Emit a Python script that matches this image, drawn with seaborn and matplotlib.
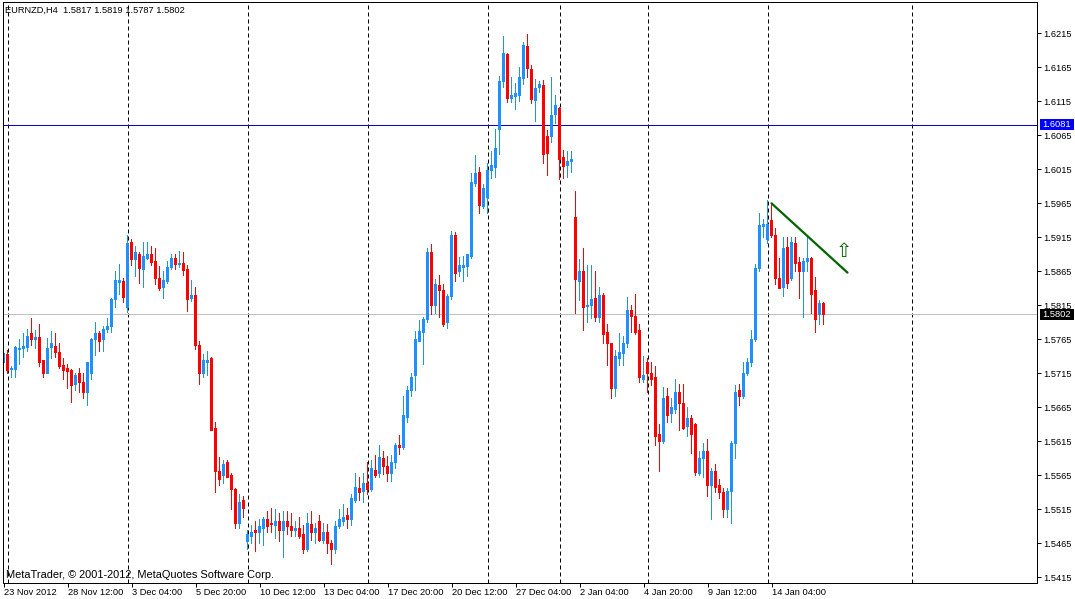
import numpy as np
import pandas as pd
import matplotlib
matplotlib.use("Agg")
import matplotlib.pyplot as plt
import matplotlib.transforms as mtransforms
from matplotlib.patches import Rectangle
import seaborn as sns

# ---------------- data (EURNZD H4) ----------------
opens = [
    1.5730, 1.5743, 1.5720, 1.5721, 1.5750, 1.5752, 1.5753, 1.5774, 1.5765, 1.5768,
    1.5733, 1.5715, 1.5753, 1.5755, 1.5746, 1.5727, 1.5722, 1.5719, 1.5699, 1.5715,
    1.5702, 1.5686, 1.5715, 1.5764, 1.5774, 1.5764, 1.5780, 1.5784, 1.5824, 1.5849,
    1.5850, 1.5811, 1.5908, 1.5883, 1.5890, 1.5868, 1.5884, 1.5890, 1.5880, 1.5855,
    1.5841, 1.5850, 1.5871, 1.5884, 1.5875, 1.5877, 1.5868, 1.5825, 1.5830, 1.5756,
    1.5715, 1.5731, 1.5736, 1.5633, 1.5571, 1.5564, 1.5583, 1.5565, 1.5544, 1.5494,
    1.5527, 1.5467, 1.5475, 1.5483, 1.5481, 1.5486, 1.5499, 1.5494, 1.5491, 1.5496,
    1.5483, 1.5496, 1.5490, 1.5483, 1.5487, 1.5477, 1.5456, 1.5493, 1.5480, 1.5497,
    1.5469, 1.5480, 1.5465, 1.5456, 1.5489, 1.5497, 1.5505, 1.5499, 1.5528, 1.5546,
    1.5541, 1.5552, 1.5544, 1.5572, 1.5568, 1.5590, 1.5577, 1.5568, 1.5584, 1.5608,
    1.5605, 1.5650, 1.5689, 1.5711, 1.5762, 1.5775, 1.5794, 1.5893, 1.5814, 1.5844,
    1.5837, 1.5789, 1.5828, 1.5918, 1.5864, 1.5871, 1.5872, 1.5886, 1.5994, 1.6011,
    1.5961, 1.5974, 1.6014, 1.6018, 1.6074, 1.6144, 1.6184, 1.6119, 1.6122, 1.6124,
    1.6149, 1.6196, 1.6162, 1.6116, 1.6136, 1.6139, 1.6064, 1.6064, 1.6095, 1.6105,
    1.6033, 1.6021, 1.6027, 1.5944, 1.5850, 1.5865, 1.5813, 1.5814, 1.5825, 1.5797,
    1.5830, 1.5775, 1.5758, 1.5693, 1.5737, 1.5744, 1.5758, 1.5808, 1.5799, 1.5778,
    1.5706, 1.5730, 1.5715, 1.5708, 1.5625, 1.5614, 1.5680, 1.5656, 1.5661, 1.5687,
    1.5671, 1.5636, 1.5649, 1.5640, 1.5568, 1.5589, 1.5599, 1.5549, 1.5571, 1.5549,
    1.5540, 1.5515, 1.5541, 1.5611, 1.5689, 1.5681, 1.5715, 1.5730, 1.5764, 1.5869,
    1.5931, 1.5912, 1.5940, 1.5917, 1.5855, 1.5841, 1.5900, 1.5855, 1.5906, 1.5878,
    1.5864, 1.5880, 1.5884, 1.5836, 1.5802, 1.5817,
]
closes = [
    1.5744, 1.5719, 1.5722, 1.5753, 1.5752, 1.5755, 1.5769, 1.5764, 1.5767, 1.5731,
    1.5714, 1.5752, 1.5758, 1.5746, 1.5725, 1.5719, 1.5718, 1.5697, 1.5712, 1.5702,
    1.5686, 1.5730, 1.5764, 1.5774, 1.5762, 1.5780, 1.5784, 1.5824, 1.5852, 1.5852,
    1.5827, 1.5906, 1.5883, 1.5892, 1.5869, 1.5887, 1.5889, 1.5878, 1.5855, 1.5840,
    1.5852, 1.5871, 1.5884, 1.5875, 1.5877, 1.5866, 1.5824, 1.5830, 1.5756, 1.5714,
    1.5733, 1.5734, 1.5631, 1.5571, 1.5559, 1.5581, 1.5562, 1.5544, 1.5494, 1.5525,
    1.5516, 1.5477, 1.5481, 1.5480, 1.5489, 1.5500, 1.5489, 1.5492, 1.5497, 1.5484,
    1.5496, 1.5489, 1.5484, 1.5487, 1.5474, 1.5456, 1.5494, 1.5481, 1.5487, 1.5469,
    1.5481, 1.5464, 1.5455, 1.5490, 1.5499, 1.5503, 1.5499, 1.5530, 1.5547, 1.5540,
    1.5553, 1.5544, 1.5574, 1.5565, 1.5591, 1.5577, 1.5568, 1.5584, 1.5608, 1.5605,
    1.5652, 1.5690, 1.5709, 1.5765, 1.5777, 1.5794, 1.5892, 1.5814, 1.5846, 1.5836,
    1.5787, 1.5828, 1.5917, 1.5862, 1.5874, 1.5874, 1.5889, 1.5996, 1.6009, 1.5962,
    1.5987, 1.6014, 1.6021, 1.6046, 1.6144, 1.6186, 1.6119, 1.6124, 1.6127, 1.6150,
    1.6197, 1.6164, 1.6118, 1.6134, 1.6140, 1.6037, 1.6039, 1.6095, 1.6109, 1.6030,
    1.6019, 1.6027, 1.6030, 1.5853, 1.5865, 1.5812, 1.5815, 1.5824, 1.5797, 1.5830,
    1.5772, 1.5758, 1.5692, 1.5740, 1.5746, 1.5759, 1.5808, 1.5799, 1.5775, 1.5708,
    1.5712, 1.5714, 1.5706, 1.5622, 1.5614, 1.5678, 1.5653, 1.5664, 1.5687, 1.5671,
    1.5634, 1.5649, 1.5625, 1.5569, 1.5589, 1.5600, 1.5550, 1.5571, 1.5547, 1.5539,
    1.5514, 1.5541, 1.5611, 1.5687, 1.5681, 1.5715, 1.5730, 1.5765, 1.5869, 1.5933,
    1.5934, 1.5934, 1.5917, 1.5855, 1.5840, 1.5899, 1.5847, 1.5908, 1.5877, 1.5865,
    1.5880, 1.5884, 1.5831, 1.5794, 1.5818, 1.5802,
]
highs = [
    1.5746, 1.5749, 1.5725, 1.5755, 1.5765, 1.5774, 1.5780, 1.5796, 1.5778, 1.5786,
    1.5734, 1.5766, 1.5777, 1.5774, 1.5759, 1.5737, 1.5728, 1.5721, 1.5715, 1.5722,
    1.5715, 1.5731, 1.5766, 1.5789, 1.5777, 1.5784, 1.5796, 1.5825, 1.5864, 1.5875,
    1.5855, 1.5918, 1.5912, 1.5902, 1.5893, 1.5908, 1.5908, 1.5902, 1.5899, 1.5872,
    1.5864, 1.5880, 1.5890, 1.5890, 1.5894, 1.5893, 1.5874, 1.5852, 1.5841, 1.5762,
    1.5743, 1.5747, 1.5738, 1.5642, 1.5591, 1.5587, 1.5586, 1.5568, 1.5546, 1.5536,
    1.5533, 1.5484, 1.5491, 1.5496, 1.5499, 1.5502, 1.5512, 1.5516, 1.5514, 1.5509,
    1.5512, 1.5512, 1.5509, 1.5496, 1.5502, 1.5491, 1.5509, 1.5512, 1.5494, 1.5506,
    1.5494, 1.5493, 1.5469, 1.5496, 1.5514, 1.5522, 1.5516, 1.5536, 1.5568, 1.5562,
    1.5568, 1.5583, 1.5587, 1.5594, 1.5608, 1.5599, 1.5593, 1.5594, 1.5611, 1.5624,
    1.5681, 1.5696, 1.5714, 1.5777, 1.5793, 1.5797, 1.5899, 1.5905, 1.5853, 1.5859,
    1.5846, 1.5831, 1.5924, 1.5922, 1.5886, 1.5887, 1.5890, 1.6009, 1.6036, 1.6018,
    1.5993, 1.6024, 1.6041, 1.6074, 1.6152, 1.6211, 1.6186, 1.6150, 1.6141, 1.6165,
    1.6202, 1.6213, 1.6168, 1.6147, 1.6144, 1.6146, 1.6072, 1.6150, 1.6124, 1.6106,
    1.6043, 1.6041, 1.6041, 1.5983, 1.5883, 1.5899, 1.5874, 1.5874, 1.5864, 1.5841,
    1.5833, 1.5786, 1.5759, 1.5749, 1.5774, 1.5769, 1.5827, 1.5815, 1.5831, 1.5787,
    1.5740, 1.5737, 1.5730, 1.5725, 1.5640, 1.5694, 1.5692, 1.5677, 1.5705, 1.5699,
    1.5699, 1.5665, 1.5652, 1.5641, 1.5599, 1.5612, 1.5618, 1.5574, 1.5581, 1.5558,
    1.5546, 1.5546, 1.5615, 1.5697, 1.5699, 1.5731, 1.5737, 1.5778, 1.5875, 1.5950,
    1.5941, 1.5969, 1.5965, 1.5928, 1.5884, 1.5914, 1.5914, 1.5914, 1.5914, 1.5886,
    1.5884, 1.5918, 1.5886, 1.5856, 1.5822, 1.5819,
]
lows = [
    1.5715, 1.5714, 1.5709, 1.5708, 1.5728, 1.5738, 1.5747, 1.5756, 1.5752, 1.5725,
    1.5709, 1.5714, 1.5736, 1.5738, 1.5722, 1.5705, 1.5692, 1.5672, 1.5689, 1.5687,
    1.5678, 1.5667, 1.5705, 1.5741, 1.5747, 1.5747, 1.5775, 1.5775, 1.5812, 1.5831,
    1.5819, 1.5805, 1.5874, 1.5858, 1.5847, 1.5841, 1.5883, 1.5874, 1.5846, 1.5836,
    1.5825, 1.5847, 1.5868, 1.5868, 1.5871, 1.5859, 1.5806, 1.5821, 1.5750, 1.5699,
    1.5709, 1.5711, 1.5630, 1.5540, 1.5550, 1.5553, 1.5561, 1.5515, 1.5486, 1.5487,
    1.5502, 1.5456, 1.5464, 1.5453, 1.5464, 1.5462, 1.5481, 1.5480, 1.5471, 1.5467,
    1.5444, 1.5477, 1.5474, 1.5474, 1.5472, 1.5450, 1.5453, 1.5469, 1.5465, 1.5467,
    1.5465, 1.5450, 1.5434, 1.5450, 1.5486, 1.5491, 1.5486, 1.5491, 1.5524, 1.5528,
    1.5524, 1.5537, 1.5541, 1.5562, 1.5561, 1.5566, 1.5556, 1.5555, 1.5575, 1.5596,
    1.5602, 1.5642, 1.5681, 1.5689, 1.5761, 1.5728, 1.5790, 1.5802, 1.5803, 1.5797,
    1.5783, 1.5781, 1.5824, 1.5850, 1.5858, 1.5850, 1.5858, 1.5884, 1.5990, 1.5950,
    1.5958, 1.5950, 1.6002, 1.6003, 1.6037, 1.6136, 1.6114, 1.6114, 1.6103, 1.6115,
    1.6140, 1.6150, 1.6112, 1.6086, 1.6128, 1.6024, 1.6006, 1.6055, 1.6083, 1.6000,
    1.6002, 1.6003, 1.6011, 1.5803, 1.5822, 1.5778, 1.5789, 1.5796, 1.5791, 1.5789,
    1.5758, 1.5727, 1.5678, 1.5680, 1.5727, 1.5727, 1.5753, 1.5775, 1.5772, 1.5702,
    1.5702, 1.5687, 1.5697, 1.5608, 1.5571, 1.5611, 1.5642, 1.5642, 1.5656, 1.5630,
    1.5632, 1.5622, 1.5597, 1.5565, 1.5565, 1.5562, 1.5534, 1.5500, 1.5540, 1.5530,
    1.5503, 1.5503, 1.5494, 1.5590, 1.5668, 1.5678, 1.5712, 1.5725, 1.5761, 1.5864,
    1.5914, 1.5906, 1.5914, 1.5846, 1.5839, 1.5828, 1.5839, 1.5852, 1.5865, 1.5825,
    1.5797, 1.5864, 1.5803, 1.5775, 1.5786, 1.5787,
]

time_tick_bars = [0, 16, 32, 48, 64, 80, 96, 112, 128, 144, 160, 176, 192]
time_tick_labels = ["23 Nov 2012", "28 Nov 12:00", "3 Dec 04:00", "5 Dec 20:00",
                    "10 Dec 12:00", "13 Dec 04:00", "17 Dec 20:00", "20 Dec 12:00",
                    "27 Dec 04:00", "2 Jan 04:00", "4 Jan 20:00", "9 Jan 12:00",
                    "14 Jan 04:00"]
week_separator_bars = [1, 31, 61, 91, 121, 139, 161, 191, 227]
price_ticks = [1.5415, 1.5465, 1.5515, 1.5565, 1.5615, 1.5665, 1.5715, 1.5765,
               1.5815, 1.5865, 1.5915, 1.5965, 1.6015, 1.6065, 1.6115, 1.6165, 1.6215]
level_price = 1.6081
bid_price = 1.5802
trend_bars = [192, 211]
trend_prices = [1.5965, 1.5863]
arrow_bar = 210
arrow_price = 1.5894
header_text = "EURNZD,H4  1.5817 1.5819 1.5787 1.5802"
copyright_text = "MetaTrader, \u00a9 2001-2012, MetaQuotes Software Corp."

# ---------------- style ----------------
BULL = "#1E90FF"
BEAR = "#FF0000"
GREEN = "#006400"
LEVEL = "#0000CC"
SILVER = "#C0C0C0"
PX = 0.72          # one pixel in points at dpi 100
FS = 6.7

sns.set_theme(style="white")
plt.rcParams["font.family"] = ["Liberation Sans", "DejaVu Sans"]

W, H = 1075, 599
fig = plt.figure(figsize=(W / 100, H / 100), dpi=100)
fig.patch.set_facecolor("white")
ax = fig.add_axes([2.5 / W, 16.5 / H, 1034 / W, 581 / H])
ax.set_facecolor("white")

df = pd.DataFrame({"open": opens, "high": highs, "low": lows, "close": closes})
df["bar"] = np.arange(len(df))
up = df["close"] >= df["open"]
colors = np.where(up, BULL, BEAR)

px_price = 1 / 6800.0  # price per screen pixel
ax.set_xlim(-0.25, 258.25)
ax.set_ylim(1.5415 - 5.5 * px_price, 1.6215 + 32 * px_price)

# weekly separators
for b in week_separator_bars:
    ax.axvline(b, color="black", lw=PX, linestyle=(0, (4, 3)), zorder=1)

# level lines
ax.axhline(level_price, color=LEVEL, lw=PX, zorder=1.5)
ax.axhline(bid_price, color=SILVER, lw=PX, zorder=1.5)

# candles
ax.vlines(df["bar"], df["low"], df["high"], colors=colors, lw=PX,
          antialiased=False, snap=False, zorder=2)
body_low = np.minimum(df["open"], df["close"])
body_h = np.maximum((df["close"] - df["open"]).abs(), px_price)
bars = ax.bar(df["bar"], body_h, bottom=body_low, width=0.74, color=colors,
              linewidth=0, antialiased=False, zorder=2.1)
for r in bars.patches:
    r.set_snap(False)

# trend line
sns.lineplot(x=trend_bars, y=trend_prices, ax=ax, color=GREEN, lw=1.6,
             legend=False, zorder=3)
ax.text(arrow_bar, arrow_price, "\u21e7", ha="center", va="center",
        color=GREEN, fontsize=14, family=["DejaVu Sans"], zorder=3)

# axes appearance
for s in ax.spines.values():
    s.set_color("black")
    s.set_linewidth(PX)
    s.set_visible(True)
ax.grid(False)
ax.set_xticks(time_tick_bars)
ax.set_xticklabels(time_tick_labels, ha="left")
ax.set_yticks(price_ticks)
ax.set_yticklabels([f"{p:.4f}" for p in price_ticks])
ax.yaxis.tick_right()
ax.tick_params(axis="y", right=True, left=False, labelright=True, labelleft=False,
               length=2.9, width=PX, pad=2.0, labelsize=FS, colors="black",
               direction="out")
ax.tick_params(axis="x", bottom=True, length=2.9, width=PX, pad=1.2,
               labelsize=FS, colors="black", direction="out")
ax.set_xlabel("")
ax.set_ylabel("")

# price label boxes on the right axis
blend = mtransforms.blended_transform_factory(ax.transAxes, ax.transData)
box_x0 = 1 + 3.5 / 1034
box_w = 34 / 1034
for price, fc in [(level_price, "#0000FF"), (bid_price, "black")]:
    ax.add_patch(Rectangle((box_x0, price - 5.5 * px_price), box_w, 11 * px_price,
                           transform=blend, facecolor=fc, edgecolor="none",
                           clip_on=False, zorder=5))
    ax.text(box_x0 + 2.5 / 1034, price, f"{price:.4f}", transform=blend,
            ha="left", va="center", color="white", fontsize=FS,
            clip_on=False, zorder=6)

# header and copyright
fig.text(5 / W, 1 - 10.5 / H, header_text, ha="left", va="center",
         fontsize=FS, color="black")
fig.text(6 / W, 1 - 578 / H, copyright_text, ha="left", va="baseline",
         fontsize=7.9, color="black")

fig.savefig("out.png", dpi=100, facecolor="white")
